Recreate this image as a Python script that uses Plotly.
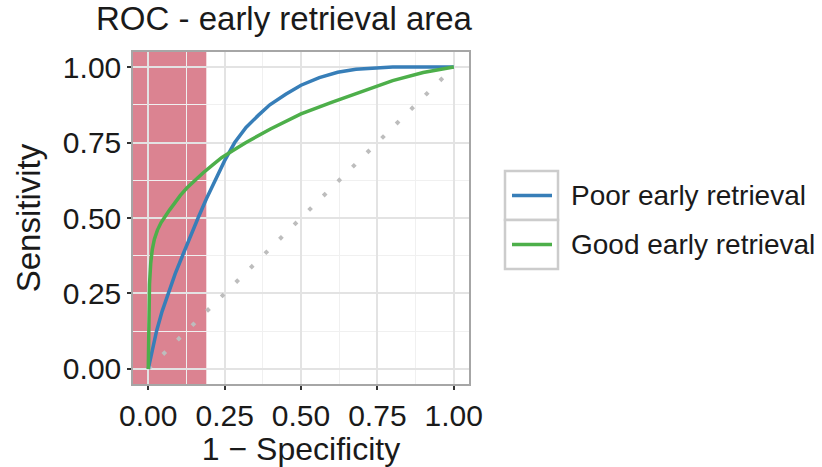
import plotly.graph_objects as go

# ---- data ----
poor_fpr = [0, 0.01, 0.027, 0.045, 0.065, 0.088, 0.112, 0.137, 0.163, 0.19, 0.218, 0.25, 0.283,
            0.32, 0.36, 0.398, 0.45, 0.5, 0.56, 0.62, 0.68, 0.75, 0.8, 0.9, 1.0]
poor_tpr = [0, 0.05, 0.125, 0.19, 0.25, 0.315, 0.375, 0.44, 0.5, 0.563, 0.625, 0.69, 0.75,
            0.8, 0.84, 0.875, 0.91, 0.94, 0.965, 0.983, 0.993, 0.998, 1.0, 1.0, 1.0]

good_fpr = [0, 0.001, 0.002, 0.004, 0.008, 0.013, 0.02, 0.03, 0.042, 0.056, 0.07, 0.087, 0.105,
            0.127, 0.152, 0.18, 0.21, 0.24, 0.28, 0.32, 0.4, 0.5, 0.6, 0.7, 0.8, 0.9, 1.0]
good_tpr = [0, 0.1, 0.2, 0.28, 0.35, 0.395, 0.43, 0.46, 0.485, 0.507, 0.527, 0.55, 0.575,
            0.6, 0.625, 0.65, 0.675, 0.7, 0.725, 0.75, 0.795, 0.845, 0.883, 0.92, 0.955, 0.982, 1.0]

diag_x = [0, 1]
diag_y = [0, 1]

early_cutoff = 0.19
series_names = ["Poor early retrieval", "Good early retrieval"]
tick_vals = [0, 0.25, 0.5, 0.75, 1.0]
tick_text = ["0.00", "0.25", "0.50", "0.75", "1.00"]

BLUE = "#377EB8"
GREEN = "#4DAF4A"
FONT = "Liberation Sans, Arial, sans-serif"
TXT = "#1a1a1a"

W, H = 822, 467
# panel (in window pixels): x 133..469, y 52..384
L, T = 133, 52
R, B = W - 469, H - 384
PW, PH = W - L - R, H - T - B


def px_x(p):
    return (p - L) / PW


def px_y(p):
    return (H - B - p) / PH


fig = go.Figure()

fig.add_trace(go.Scatter(x=diag_x, y=diag_y, mode="lines",
                         line=dict(color="#bdbdbd", width=4, dash="4px,16.5px"),
                         showlegend=False, hoverinfo="skip"))
fig.add_trace(go.Scatter(x=poor_fpr, y=poor_tpr, mode="lines", name=series_names[0],
                         line=dict(color=BLUE, width=3.5),
                         showlegend=False))
fig.add_trace(go.Scatter(x=good_fpr, y=good_tpr, mode="lines", name=series_names[1],
                         line=dict(color=GREEN, width=3.5),
                         showlegend=False))

shapes = [
    dict(type="rect", xref="x", yref="paper", x0=-0.05, x1=early_cutoff, y0=0, y1=1,
         fillcolor="rgba(190,30,55,0.55)", line=dict(width=0), layer="between"),
]

# legend keys (ggplot style boxes)
key_x0, key_x1 = 505, 558
key_tops = [171, 220]
key_h = 49
for i, (name, col) in enumerate(zip(series_names, [BLUE, GREEN])):
    top = key_tops[i]
    shapes.append(dict(type="rect", xref="paper", yref="paper",
                       x0=px_x(key_x0), x1=px_x(key_x1), y0=px_y(top + key_h), y1=px_y(top),
                       line=dict(color="#cccccc", width=2.5), fillcolor="white", layer="above"))
    cy = top + key_h / 2
    shapes.append(dict(type="line", xref="paper", yref="paper",
                       x0=px_x(512), x1=px_x(552), y0=px_y(cy), y1=px_y(cy),
                       line=dict(color=col, width=3.5), layer="above"))

annotations = []
for i, name in enumerate(series_names):
    cy = key_tops[i] + key_h / 2
    annotations.append(dict(text=name, xref="paper", yref="paper", x=px_x(569), y=px_y(cy),
                            xanchor="left", yanchor="middle", showarrow=False,
                            font=dict(family=FONT, size=28, color=TXT)))

axis_common = dict(
    range=[-0.05, 1.05], tickvals=tick_vals, ticktext=tick_text,
    showgrid=True, gridcolor="#e3e3e3", gridwidth=1.5, zeroline=False,
    showline=True, mirror=True, linecolor="#a6a6a6", linewidth=1.5,
    ticks="outside", ticklen=4, tickwidth=2, tickcolor="#333333",
    tickfont=dict(family=FONT, size=30, color=TXT),
    minor=dict(tickvals=[0.125, 0.375, 0.625, 0.875], showgrid=True,
               gridcolor="#f0f0f0", gridwidth=1, ticks=""),
)

fig.update_layout(
    width=W, height=H,
    margin=dict(l=L, r=R, t=T, b=B, autoexpand=False),
    paper_bgcolor="white", plot_bgcolor="white",
    title=dict(text="ROC - early retrieval area", xref="paper", x=px_x(284), xanchor="center",
               yref="container", y=1 - 18 / H, yanchor="middle",
               font=dict(family=FONT, size=33, color=TXT)),
    xaxis=dict(axis_common, title=dict(text="1 − Specificity", standoff=10,
                                       font=dict(family=FONT, size=32, color=TXT))),
    yaxis=dict(axis_common, title=dict(text="Sensitivity", standoff=12,
                                       font=dict(family=FONT, size=33, color=TXT))),
    shapes=shapes,
    annotations=annotations,
    showlegend=False,
)

fig.write_html("out.html", config={"displayModeBar": False},
               post_script="document.body.style.margin='0';")
